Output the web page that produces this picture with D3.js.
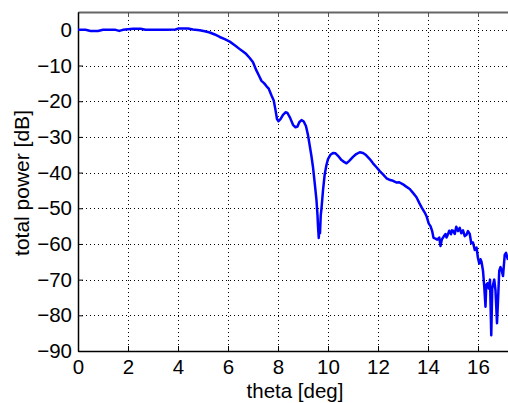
<!DOCTYPE html>
<html>
<head>
<meta charset="utf-8">
<script src="https://cdn.jsdelivr.net/npm/d3@7"></script>
<style>
  html, body { margin: 0; padding: 0; background: #fff; }
  svg { display: block; }
  text { font-family: Arial, "Liberation Sans", sans-serif; fill: #000; }
</style>
</head>
<body>
<svg id="chart" width="508" height="403"></svg>
<script>
// Angle samples [deg] and total power [dB]
const theta = [
  0, 0.3, 0.5, 0.8, 1.0, 1.5, 1.65, 1.8, 2.2, 2.5, 2.7, 3.5, 3.9, 4.0, 4.4, 4.6,
  4.87, 5.07, 5.27, 5.47, 5.67, 5.87, 6.07, 6.27, 6.47, 6.6, 6.73, 6.87, 7.0, 7.13,
  7.25, 7.34, 7.45, 7.55, 7.63, 7.74, 7.83, 7.9, 7.96, 8.02, 8.1, 8.2, 8.3, 8.38,
  8.48, 8.6, 8.7, 8.78, 8.85, 8.94, 9.03, 9.12, 9.2, 9.27, 9.34, 9.4, 9.47, 9.54,
  9.58, 9.6, 9.63, 9.66, 9.68, 9.71, 9.74, 9.8, 9.87, 9.94, 10.0, 10.1, 10.2, 10.3,
  10.4, 10.54, 10.64, 10.74, 10.85, 11.0, 11.13, 11.27, 11.4, 11.52, 11.67, 11.8,
  11.94, 12.07, 12.2, 12.34, 12.45, 12.6, 12.75, 12.85, 13.0, 13.1, 13.27, 13.4,
  13.54, 13.65, 13.75, 13.87, 13.95, 14.03, 14.1, 14.17, 14.22, 14.3, 14.37, 14.45,
  14.5, 14.55, 14.62, 14.7, 14.74, 14.78, 14.85, 14.92, 14.96, 15.0, 15.07, 15.13, 15.2, 15.27,
  15.33, 15.4, 15.47, 15.54, 15.6, 15.67, 15.73, 15.8, 15.87, 15.94, 16.0, 16.05,
  16.1, 16.14, 16.2, 16.25, 16.3, 16.33, 16.38, 16.43, 16.48, 16.53, 16.57, 16.6,
  16.65, 16.7, 16.76, 16.8, 16.85, 16.9, 16.95, 17.0, 17.07, 17.12, 17.2
];
const power = [
  0, 0, -0.3, -0.3, 0, 0, -0.3, 0, 0.3, 0.3, 0, 0, 0.1, 0.35, 0.35, 0.1,
  -0.1, -0.4, -0.75, -1.3, -2.0, -2.6, -3.3, -4.3, -5.4, -6.1, -6.8, -7.9, -9.1, -11.3,
  -13.0, -14.3, -15.0, -15.9, -16.5, -18.4, -19.8, -22.5, -25.0, -25.6, -25.0, -23.8, -23.1, -23.3,
  -24.6, -26.6, -27.3, -27.1, -25.9, -25.3, -25.7, -27.0, -29.5, -32.5, -35.5, -38.5, -43.0, -47.8,
  -52.0, -55.0, -58.3, -55.0, -57.0, -52.0, -50.0, -45.0, -40.4, -37.8, -36.2, -35.0, -34.5, -34.6,
  -35.3, -36.5, -37.0, -37.4, -36.7, -35.6, -34.8, -34.3, -34.5, -35.1, -36.2, -37.4,
  -38.5, -39.6, -40.5, -41.6, -42.0, -42.3, -42.8, -42.7, -43.3, -43.8, -44.6, -45.7,
  -46.9, -48.5, -49.8, -51.2, -52.4, -54.3, -55.0, -56.5, -58.3, -58.5, -58.8, -58.2,
  -60.6, -58.8, -58.0, -57.2, -58.2, -57.6, -56.3, -57.3, -56.2, -56.3, -57.2, -55.2, -56.4, -55.5,
  -57.0, -56.2, -57.8, -57.4, -56.4, -57.2, -59.8, -59.6, -61.7, -61.0, -64.0, -65.5,
  -64.3, -65.0, -67.5, -72.0, -77.6, -71.5, -71.0, -72.5, -70.0, -85.6, -72.5, -71.5,
  -70.0, -73.0, -82.2, -76.0, -67.5, -66.5, -67.5, -69.0, -63.0, -62.5, -64.5
];

const xTicks = [0, 2, 4, 6, 8, 10, 12, 14, 16];
const yTicks = [0, -10, -20, -30, -40, -50, -60, -70, -80, -90];

const svg = d3.select("#chart");
const plotLeft = 78, plotTop = 12, plotBottom = 351;
const xs = d3.scaleLinear().domain([0, 18]).range([plotLeft, plotLeft + 450]);
const ys = d3.scaleLinear().domain([-90, 5]).range([plotBottom, plotTop]);

svg.append("defs").append("clipPath").attr("id", "plot")
  .append("rect").attr("x", plotLeft).attr("y", plotTop)
  .attr("width", 508 - plotLeft).attr("height", plotBottom - plotTop);

// dotted grid
const grid = svg.append("g").attr("stroke", "#000").attr("stroke-width", 1)
  .attr("stroke-dasharray", "1,3").attr("shape-rendering", "crispEdges");
grid.selectAll("line.v").data(xTicks.filter(d => d > 0)).join("line")
  .attr("class", "v")
  .attr("x1", d => Math.round(xs(d)) + 0.5).attr("x2", d => Math.round(xs(d)) + 0.5)
  .attr("y1", plotTop).attr("y2", plotBottom);
grid.selectAll("line.h").data(yTicks.filter(d => d > -90)).join("line")
  .attr("class", "h")
  .attr("x1", plotLeft).attr("x2", 508)
  .attr("y1", d => Math.round(ys(d)) + 0.5).attr("y2", d => Math.round(ys(d)) + 0.5);

// axes with inward ticks
const xAxisB = d3.axisBottom(xs).tickValues(xTicks).tickSizeInner(-5).tickSizeOuter(0).tickPadding(8);
const gxb = svg.append("g").attr("transform", `translate(0,${plotBottom})`).call(xAxisB);
gxb.select(".domain").attr("stroke", "#000").attr("stroke-width", 1.5);
gxb.selectAll("text").attr("font-size", 20.5).attr("font-family", "Arial, 'Liberation Sans', sans-serif");

const xAxisT = d3.axisTop(xs).tickValues(xTicks).tickSizeInner(-5).tickSizeOuter(0).tickFormat("");
const gxt = svg.append("g").attr("transform", `translate(0,${plotTop})`).call(xAxisT);
gxt.select(".domain").attr("stroke", "#666").attr("stroke-width", 2);
gxt.selectAll(".tick line").attr("stroke", "#555");

const yAxis = d3.axisLeft(ys).tickValues(yTicks).tickSizeInner(-5).tickSizeOuter(0).tickPadding(6);
const gy = svg.append("g").attr("transform", `translate(${plotLeft},0)`).call(yAxis);
gy.select(".domain").attr("stroke", "#000").attr("stroke-width", 1.5);
gy.selectAll("text").attr("font-size", 20.5).attr("font-family", "Arial, 'Liberation Sans', sans-serif");

// power curve
const line = d3.line().x((d, i) => xs(theta[i])).y(d => ys(d));
svg.append("path").datum(power)
  .attr("clip-path", "url(#plot)")
  .attr("fill", "none").attr("stroke", "#0000ff").attr("stroke-width", 2.5)
  .attr("stroke-linejoin", "round")
  .attr("d", line);

// axis titles
svg.append("text").attr("x", 295).attr("y", 398).attr("text-anchor", "middle")
  .attr("font-size", 20.5).text("theta [deg]");
svg.append("text").attr("transform", "translate(29,183) rotate(-90)")
  .attr("text-anchor", "middle").attr("font-size", 21).text("total power [dB]");
</script>
</body>
</html>
